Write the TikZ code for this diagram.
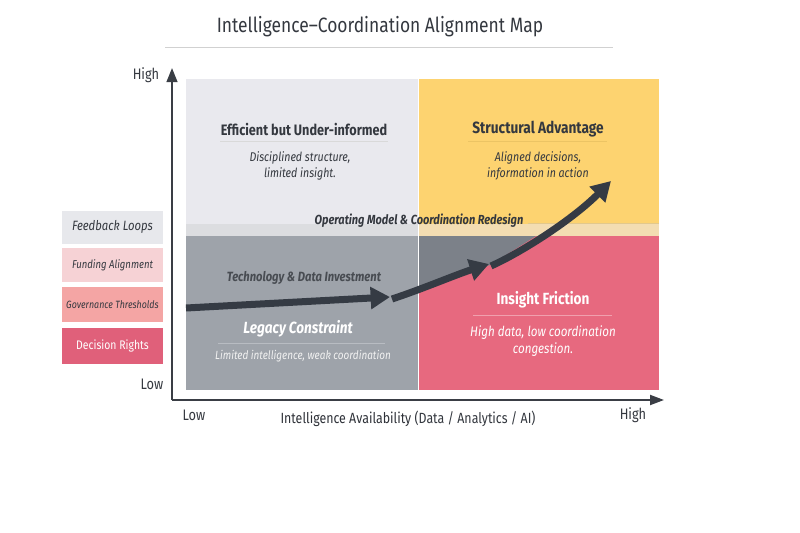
\documentclass[tikz,border=0pt]{standalone}
\usepackage{fontspec}
\setmainfont[FakeStretch=0.84]{Fira Sans}
\usetikzlibrary{arrows.meta}
\definecolor{ink}{HTML}{34383F}
\definecolor{axisc}{HTML}{3A3E45}
\definecolor{tlc}{HTML}{E9E9EE}
\definecolor{trc}{HTML}{FDD370}
\definecolor{blc}{HTML}{9EA3AA}
\definecolor{brc}{HTML}{E7697F}
\definecolor{bandl}{HTML}{DCDDE0}
\definecolor{bandr}{HTML}{F3DDB2}
\definecolor{patch}{HTML}{7C8189}
\definecolor{arrowc}{HTML}{353B44}
\definecolor{lg1}{HTML}{E7E8EC}
\definecolor{lg2}{HTML}{F6D2D5}
\definecolor{lg3}{HTML}{F4A5A4}
\definecolor{lg4}{HTML}{E0607A}
\newcommand{\fpx}[1]{\fontsize{#1}{#1}\selectfont}
\tikzset{
  qtitle/.style={font=\bfseries\fpx{12.9pt}, text=ink, inner sep=0pt},
  qbody/.style={font=\itshape\fpx{10.8pt}, text=ink, align=center, inner sep=0pt},
  legbox/.style={minimum width=0.03cm*101, minimum height=0.03cm*33, inner sep=0pt, font=\itshape\fpx{9.7pt}, text=ink},
  bigarrow/.style={line width=0.21cm, draw=arrowc, -{Triangle[length=0.58cm,width=0.64cm]}},
  axisline/.style={line width=0.06cm, draw=axisc},
  axislab/.style={font=\fpx{13pt}, text=ink, inner sep=0pt},
}
\begin{document}
\begin{tikzpicture}[x=0.03cm, y=-0.03cm]
\useasboundingbox[fill=white] (0,0) rectangle (800,533);
% title
\node[font=\fpx{17.7pt}, text=ink] (title) at (380,27) {Intelligence\textendash Coordination Alignment Map};
\draw[draw=black!18, line width=0.03cm] (165,47) -- (613,47);
% quadrants
\fill[tlc] (186,79) rectangle (418,224);
\fill[trc] (418,79) rectangle (659,224);
\fill[bandl] (186,224) rectangle (418,236);
\fill[bandr] (418,224) rectangle (659,236);
\fill[blc] (186,236) rectangle (418,390);
\fill[brc] (418,236) rectangle (659,390);
\fill[patch] (418,236) -- (536,236) -- (490,265) -- (418,290) -- cycle;
\draw[white, line width=0.03cm] (418,79) -- (418,390);
% quadrant texts
\node[qtitle] (q1t) at (304,129) {Efficient but Under-informed};
\draw[black!15, line width=0.03cm] (220,141) -- (388,141);
\node[qbody] (q1b) at (300,166) {Disciplined structure,\\[3pt]limited insight.};
\node[qtitle, font=\bfseries\fpx{13.9pt}] (q2t) at (538,129) {Structural Advantage};
\draw[draw={rgb,255:red,236;green,196;blue,100}, line width=0.03cm] (468,141) -- (607,141);
\node[qbody] (q2b) at (538,166) {Aligned decisions,\\[3pt]information in action};
\draw[draw={rgb,255:red,226;green,200;blue,140}, line width=0.03cm] (528,223) -- (659,223);
\node[font=\bfseries\itshape\fpx{11.2pt}, text=ink, inner sep=0pt] (band) at (419,221) {Operating Model \& Coordination Redesign};
\node[font=\bfseries\itshape\fpx{11.4pt}, text=ink!90, inner sep=0pt] (tech) at (304,278) {Technology \& Data Investment};
\node[font=\bfseries\itshape\fpx{13.8pt}, text=white, inner sep=0pt] (q3t) at (298,329) {Legacy Constraint};
\draw[draw={rgb,255:red,184;green,188;blue,194}, line width=0.03cm] (218,343) -- (385,343);
\node[font=\itshape\fpx{10.1pt}, text=white!95!black, inner sep=0pt] (q3b) at (303,356) {Limited intelligence, weak coordination};
\node[font=\bfseries\fpx{13.8pt}, text=white, inner sep=0pt] (q4t) at (543,300) {Insight Friction};
\draw[draw={rgb,255:red,240;green,160;blue,174}, line width=0.03cm] (473,315) -- (612,315);
\node[font=\itshape\fpx{11.8pt}, text=white, align=center, inner sep=0pt] (q4b) at (543,341) {High data, low coordination\\[3pt]congestion.};
% big arrow
\coordinate (a0) at (186,308);
\coordinate (a1) at (390,297);
\coordinate (b0) at (392,299);
\coordinate (b1) at (489,264);
\coordinate (c0) at (491,266);
\coordinate (c1) at (611,181);
\draw[bigarrow] (a0) -- (a1);
\draw[bigarrow] (b0) .. controls (425,288) and (455,275) .. (b1);
\draw[bigarrow] (c0) .. controls (522,252) and (572,220) .. (c1);
% axes
\coordinate (origin) at (172,400);
\coordinate (ytop) at (172,68);
\coordinate (xend) at (664,400);
\draw[axisline, -{Triangle[length=0.42cm,width=0.32cm]}] (origin) -- (ytop);
\draw[axisline, -{Triangle[length=0.42cm,width=0.3cm]}] (origin) -- (xend);
\node[axislab] (yhigh) at (146,75) {High};
\node[axislab] (ylow) at (152,384) {Low};
\node[axislab] (xlow) at (194,415) {Low};
\node[axislab] (xhigh) at (633,415) {High};
\node[axislab, font=\fpx{12.6pt}] (xlab) at (408,419) {\textcolor{ink!90!black}{Intelligence Availability} (Data / Analytics / AI)};
% legend
\node[legbox, fill=lg1, font=\itshape\fpx{11.5pt}] (l1) at (112.5,227) {Feedback Loops};
\node[legbox, fill=lg2, minimum height=0.03cm*34] (l2) at (112.5,265) {Funding Alignment};
\node[legbox, fill=lg3, minimum height=0.03cm*35, font=\itshape\fpx{9pt}] (l3) at (112.5,304.5) {Governance Thresholds};
\node[legbox, fill=lg4, minimum height=0.03cm*36, text=white, font=\fpx{10.6pt}] (l4) at (112.5,346) {Decision Rights};
\end{tikzpicture}
\end{document}
